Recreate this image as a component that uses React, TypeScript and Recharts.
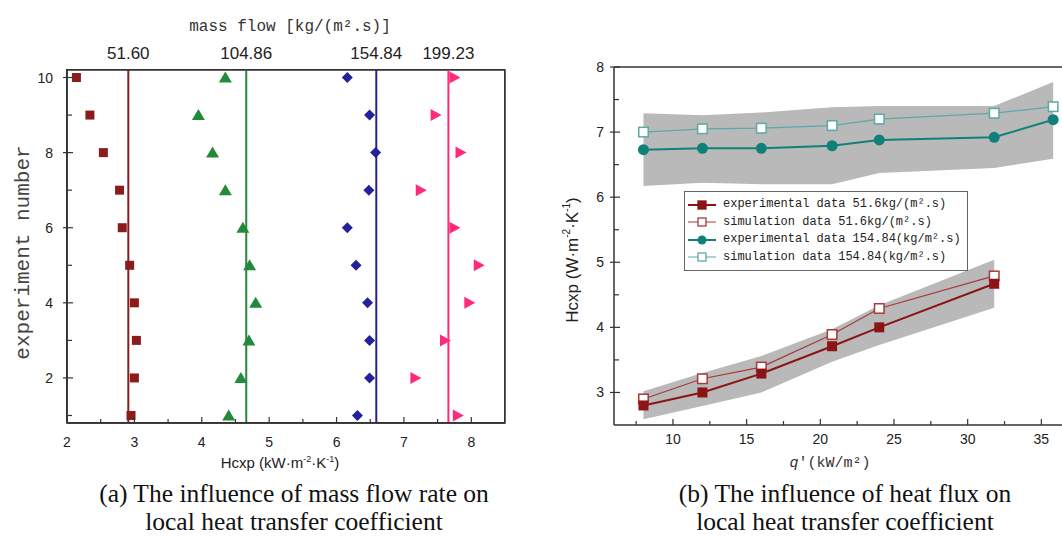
import React from "react"
import { ComposedChart, Scatter, Line, Area, XAxis, YAxis, ReferenceLine, ReferenceArea, Legend } from "recharts"

// panel (a): experiment number vs Hcxp for four mass flows
const expNo = [10, 9, 8, 7, 6, 5, 4, 3, 2, 1]
const hcxp516 = [2.14, 2.34, 2.54, 2.78, 2.82, 2.93, 3.0, 3.03, 3.0, 2.95]
const hcxp10486 = [4.35, 3.95, 4.16, 4.35, 4.61, 4.71, 4.8, 4.7, 4.58, 4.4]
const hcxp15484 = [6.16, 6.49, 6.58, 6.48, 6.16, 6.29, 6.46, 6.49, 6.49, 6.31]
const hcxp19923 = [7.75, 7.47, 7.84, 7.25, 7.75, 8.11, 7.97, 7.61, 7.17, 7.8]
const massFlowLabels = ["51.60", "104.86", "154.84", "199.23"]
const meanHcxp = [2.91, 4.66, 6.59, 7.66]

// panel (b): Hcxp vs heat flux
const qFlux = [8, 12, 16, 20.8, 24, 31.8, 35.8]
const exp516 = [2.8, 3.0, 3.29, 3.71, 4.0, 4.67]
const sim516 = [2.9, 3.21, 3.39, 3.89, 4.29, 4.79]
const band516Low = [2.59, 2.79, 3.0, 3.47, 3.73, 4.3]
const band516High = [3.02, 3.3, 3.56, 3.97, 4.34, 5.04]
const exp15484 = [6.73, 6.75, 6.75, 6.79, 6.88, 6.92, 7.19]
const sim15484 = [7.0, 7.05, 7.06, 7.1, 7.2, 7.29, 7.39]
const band15484Low = [6.17, 6.22, 6.2, 6.2, 6.37, 6.45, 6.59]
const band15484High = [7.29, 7.26, 7.3, 7.38, 7.4, 7.4, 7.77]
const legendLabels = [
  "experimental data 51.6kg/(m².s)",
  "simulation data 51.6kg/(m².s)",
  "experimental data 154.84(kg/m².s)",
  "simulation data 154.84(kg/m².s)",
]

const colA = ["#8c1c1c", "#23893b", "#24229a", "#ff2a7c"]
const RED = "#8b1414"
const RED_LT = "#a83a3a"
const TEAL = "#12807a"
const TEAL_LT = "#5aaaa6"
const BAND = "#b9b9b9"
const AXIS = "#333"
const SANS = "Liberation Sans, Arial, sans-serif"
const MONO = "Liberation Mono, monospace"

const scatterA = [hcxp516, hcxp10486, hcxp15484, hcxp19923].map((s) => s.map((h, i) => ({ x: h, y: expNo[i] })))

const rowsB = qFlux.map((q, i) => ({
  q,
  exp516: exp516[i],
  sim516: sim516[i],
  exp15484: exp15484[i],
  sim15484: sim15484[i],
  band516: i < band516Low.length ? [band516Low[i], band516High[i]] : undefined,
  band15484: [band15484Low[i], band15484High[i]],
}))

type TickOpts = {
  side: "bottom" | "top" | "left"
  gap: number
  isMajor: (v: number) => boolean
  major: number
  minor: number
  size: number
  label?: (v: number) => string
}

function makeTick(o: TickOpts) {
  return (p: any) => {
    const v = p.payload.value
    const maj = o.isMajor(v)
    const len = maj ? o.major : o.minor
    const txt = o.label && maj ? o.label(v) : ""
    if (o.side === "bottom") {
      const ay = p.y - o.gap
      return (
        <g>
          <line x1={p.x} x2={p.x} y1={ay} y2={ay - len} stroke={AXIS} strokeWidth={1.2} />
          {txt && <text x={p.x} y={p.y} textAnchor="middle" fontSize={o.size} fontFamily={SANS} fill="#222">{txt}</text>}
        </g>
      )
    }
    if (o.side === "top") {
      const ay = p.y + o.gap
      return (
        <g>
          <line x1={p.x} x2={p.x} y1={ay} y2={ay + len} stroke={AXIS} strokeWidth={1.2} />
        </g>
      )
    }
    const ax = p.x + o.gap
    return (
      <g>
        <line x1={maj ? ax - 4 : ax} x2={ax + len} y1={p.y} y2={p.y} stroke={AXIS} strokeWidth={1.2} />
        {txt && <text x={p.x} y={p.y} dy="0.36em" textAnchor="end" fontSize={o.size} fontFamily={SANS} fill="#222">{txt}</text>}
      </g>
    )
  }
}

const tickAx = makeTick({ side: "bottom", gap: 24, isMajor: (v) => v % 1 === 0, major: 6, minor: 4, size: 14, label: (v) => String(v) })
const tickAy = makeTick({ side: "left", gap: 14, isMajor: (v) => v % 2 === 0, major: 6, minor: 5, size: 14, label: (v) => String(v) })
const tickBx = makeTick({ side: "bottom", gap: 19, isMajor: (v) => v % 5 === 0, major: 6, minor: 4, size: 14, label: (v) => String(v) })
const tickBtop = makeTick({ side: "top", gap: 4, isMajor: (v) => v % 5 === 0, major: 6, minor: 4, size: 14 })
const tickBy = makeTick({ side: "left", gap: 10, isMajor: (v) => v % 1 === 0, major: 6, minor: 5, size: 14, label: (v) => String(v) })

function MarkA(props: any) {
  const { cx, cy, kind, color } = props
  if (cx == null || cy == null) return <g />
  if (kind === 0) return <rect x={cx - 4.5} y={cy - 4.5} width={9} height={9} fill={color} />
  if (kind === 1) return <path d={`M${cx},${cy - 6}L${cx + 6.5},${cy + 5}L${cx - 6.5},${cy + 5}Z`} fill={color} />
  if (kind === 2) return <path d={`M${cx},${cy - 5.5}L${cx + 5.5},${cy}L${cx},${cy + 5.5}L${cx - 5.5},${cy}Z`} fill={color} />
  return <path d={`M${cx + 6},${cy}L${cx - 5},${cy - 6}L${cx - 5},${cy + 6}Z`} fill={color} />
}

function dotFn(kind: "sq" | "hsq" | "circ", color: string) {
  return (p: any) => {
    if (p.cx == null || p.cy == null || p.value == null) return <g key={p.index} />
    if (kind === "circ") return <circle key={p.index} cx={p.cx} cy={p.cy} r={5.5} fill={color} />
    const s = kind === "sq" ? 10 : 9.5
    return (
      <rect key={p.index} x={p.cx - s / 2} y={p.cy - s / 2} width={s} height={s} fill={kind === "sq" ? color : "#fff"} stroke={kind === "sq" ? "none" : color} strokeWidth={1.5} />
    )
  }
}

function PanelA() {
  return (
    <ComposedChart width={540} height={485} margin={{ top: 70, right: 35, bottom: 10, left: 5 }}>
      <XAxis
        type="number"
        dataKey="x"
        domain={[2, 8.5]}
        allowDataOverflow
        ticks={[2, 2.5, 3, 3.5, 4, 4.5, 5, 5.5, 6, 6.5, 7, 7.5, 8]}
        interval={0}
        height={52}
        axisLine={{ stroke: AXIS, strokeWidth: 1.5 }}
        tickLine={false}
        tickSize={0}
        tickMargin={24}
        tick={tickAx}
      />
      <YAxis
        type="number"
        dataKey="y"
        domain={[0.8, 10.2]}
        allowDataOverflow
        ticks={[1, 2, 3, 4, 5, 6, 7, 8, 9, 10]}
        interval={0}
        width={62}
        axisLine={{ stroke: AXIS, strokeWidth: 1.5 }}
        tickLine={false}
        tickSize={0}
        tickMargin={14}
        tick={tickAy}
      />
      <ReferenceArea
        x1={2}
        x2={8.5}
        y1={0.8}
        y2={10.2}
        fill="none"
        stroke={AXIS}
        strokeWidth={1.5}
        ifOverflow="visible"
        label={(p: any) => {
          const vb = p.viewBox
          const cx = vb.x + vb.width / 2
          const cy = vb.y + vb.height / 2 + 6
          return (
            <g>
              <text x={cx + 4} y={vb.y - 39} textAnchor="middle" fontSize={16} fontFamily={MONO} fill="#333">
                mass flow [kg/(m².s)]
              </text>
              <text x={cx - 6} y={vb.y + vb.height + 45} textAnchor="middle" fontSize={15} fontFamily={SANS} fill="#222">
                Hcxp (kW·m<tspan dy={-6} fontSize={9}>-2</tspan>
                <tspan dy={6}>·K</tspan>
                <tspan dy={-6} fontSize={9}>-1</tspan>
                <tspan dy={6}>)</tspan>
              </text>
              <text x={23} y={cy} transform={`rotate(-90 23 ${cy})`} textAnchor="middle" dominantBaseline="central" fontSize={21} fontFamily={MONO} fill="#444">
                experiment number
              </text>
            </g>
          )
        }}
      />
      {meanHcxp.map((m, i) => (
        <ReferenceLine
          key={m}
          x={m}
          stroke={colA[i]}
          strokeWidth={2}
          label={(p: any) => (
            <text x={p.viewBox.x} y={p.viewBox.y - 11} textAnchor="middle" fontSize={17} fontFamily={SANS} fill="#222">
              {massFlowLabels[i]}
            </text>
          )}
        />
      ))}
      {scatterA.map((d, i) => (
        <Scatter key={i} data={d} dataKey="y" fill={colA[i]} shape={<MarkA kind={i} color={colA[i]} />} isAnimationActive={false} />
      ))}
    </ComposedChart>
  )
}

function LegendBox() {
  const marks = [
    { color: RED, kind: "sq", w: 2 },
    { color: RED_LT, kind: "hsq", w: 1 },
    { color: TEAL, kind: "circ", w: 2 },
    { color: TEAL_LT, kind: "hsq", w: 1 },
  ]
  return (
    <div style={{ border: "1.5px solid #666", background: "#fff", padding: "4px 6px 4px 2px", fontFamily: MONO, fontSize: 12, lineHeight: "17.5px", color: "#222" }}>
      {legendLabels.map((t, i) => (
        <div key={t} style={{ display: "flex", alignItems: "center", whiteSpace: "nowrap" }}>
          <svg width={30} height={14} style={{ flex: "none" }}>
            <line x1={1} x2={29} y1={7} y2={7} stroke={marks[i].color} strokeWidth={marks[i].w} />
            {marks[i].kind === "circ" ? (
              <circle cx={15} cy={7} r={4.5} fill={marks[i].color} />
            ) : (
              <rect x={11} y={3} width={8} height={8} fill={marks[i].kind === "sq" ? marks[i].color : "#fff"} stroke={marks[i].color} strokeWidth={1.3} />
            )}
          </svg>
          <span style={{ marginLeft: 6 }}>{t}</span>
        </div>
      ))}
    </div>
  )
}

function PanelB() {
  const xt = [7.5, 10, 12.5, 15, 17.5, 20, 22.5, 25, 27.5, 30, 32.5, 35]
  return (
    <ComposedChart width={522} height={485} data={rowsB} margin={{ top: 47, right: 0, bottom: 10, left: 5 }}>
      <XAxis
        type="number"
        dataKey="q"
        domain={[6, 36.4]}
        ticks={xt}
        interval={0}
        height={50}
        axisLine={{ stroke: AXIS, strokeWidth: 1.5 }}
        tickLine={false}
        tickSize={0}
        tickMargin={19}
        tick={tickBx}
        label={(p: any) => {
          const vb = p.viewBox
          return (
            <text x={vb.x + vb.width / 2 - 8} y={467} textAnchor="middle" fontSize={15} fontFamily={MONO} fill="#333">
              <tspan fontStyle="italic">q</tspan>′(kW/m²)
            </text>
          )
        }}
      />
      <XAxis
        xAxisId="top"
        orientation="top"
        type="number"
        domain={[6, 36.4]}
        ticks={xt}
        interval={0}
        height={20}
        axisLine={{ stroke: AXIS, strokeWidth: 1.5 }}
        tickLine={false}
        tickSize={0}
        tickMargin={4}
        tick={tickBtop}
      />
      <YAxis
        type="number"
        domain={[2.5, 8]}
        ticks={[3, 3.5, 4, 4.5, 5, 5.5, 6, 6.5, 7, 7.5, 8]}
        interval={0}
        width={69}
        axisLine={{ stroke: AXIS, strokeWidth: 1.5 }}
        tickLine={false}
        tickSize={0}
        tickMargin={10}
        tick={tickBy}
        label={(p: any) => {
          const vb = p.viewBox
          const cy = vb.y + vb.height / 2 + 14
          return (
            <text x={32} y={cy} transform={`rotate(-90 32 ${cy})`} textAnchor="middle" dominantBaseline="central" fontSize={17} fontFamily={SANS} fill="#222">
              Hcxp (W·m<tspan dy={-6} fontSize={10}>-2</tspan>
              <tspan dy={6}>·K</tspan>
              <tspan dy={-6} fontSize={10}>-1</tspan>
              <tspan dy={6}>)</tspan>
            </text>
          )
        }}
      />
      <Area dataKey="band15484" type="linear" fill={BAND} fillOpacity={1} stroke="none" legendType="none" isAnimationActive={false} />
      <Area dataKey="band516" type="linear" fill={BAND} fillOpacity={1} stroke="none" legendType="none" isAnimationActive={false} />
      <Line dataKey="sim15484" type="linear" stroke={TEAL_LT} strokeWidth={1.2} dot={dotFn("hsq", TEAL_LT)} isAnimationActive={false} />
      <Line dataKey="exp15484" type="linear" stroke={TEAL} strokeWidth={2} dot={dotFn("circ", TEAL)} isAnimationActive={false} />
      <Line dataKey="sim516" type="linear" stroke={RED_LT} strokeWidth={1.2} dot={dotFn("hsq", RED_LT)} isAnimationActive={false} />
      <Line dataKey="exp516" type="linear" stroke={RED} strokeWidth={2} dot={dotFn("sq", RED)} isAnimationActive={false} />
      <Legend
        layout="vertical"
        align="center"
        verticalAlign="middle"
        content={() => <LegendBox />}
        wrapperStyle={{ left: 144, top: 191, width: "auto" }}
      />
    </ComposedChart>
  )
}

const caption: React.CSSProperties = {
  position: "absolute",
  textAlign: "center",
  fontFamily: "Liberation Serif, Times New Roman, serif",
  fontSize: 25.5,
  lineHeight: "28px",
  color: "#111",
  whiteSpace: "nowrap",
}

export default function App() {
  return (
    <div style={{ position: "absolute", left: 0, top: 0, width: 1062, height: 536, background: "#fff", overflow: "hidden" }}>
      <div style={{ position: "absolute", left: 0, top: 0, width: 540, height: 485 }}>
        <PanelA />
      </div>
      <div style={{ position: "absolute", left: 540, top: 0 }}>
        <PanelB />
      </div>
      {/* frame of panel (a): plot box is 67..505 x 70..423 */}
      <div
        style={{
          position: "absolute",
          left: 66,
          top: 69,
          width: 437,
          height: 352,
          border: `1.5px solid ${AXIS}`,
          pointerEvents: "none",
          zIndex: 5,
        }}
      />
      <div style={{ ...caption, left: 94, top: 480, width: 400 }}>
        (a) The influence of mass flow rate on
        <br />
        local heat transfer coefficient
      </div>
      <div style={{ ...caption, left: 645, top: 480, width: 400 }}>
        (b) The influence of heat flux on
        <br />
        local heat transfer coefficient
      </div>
    </div>
  )
}
